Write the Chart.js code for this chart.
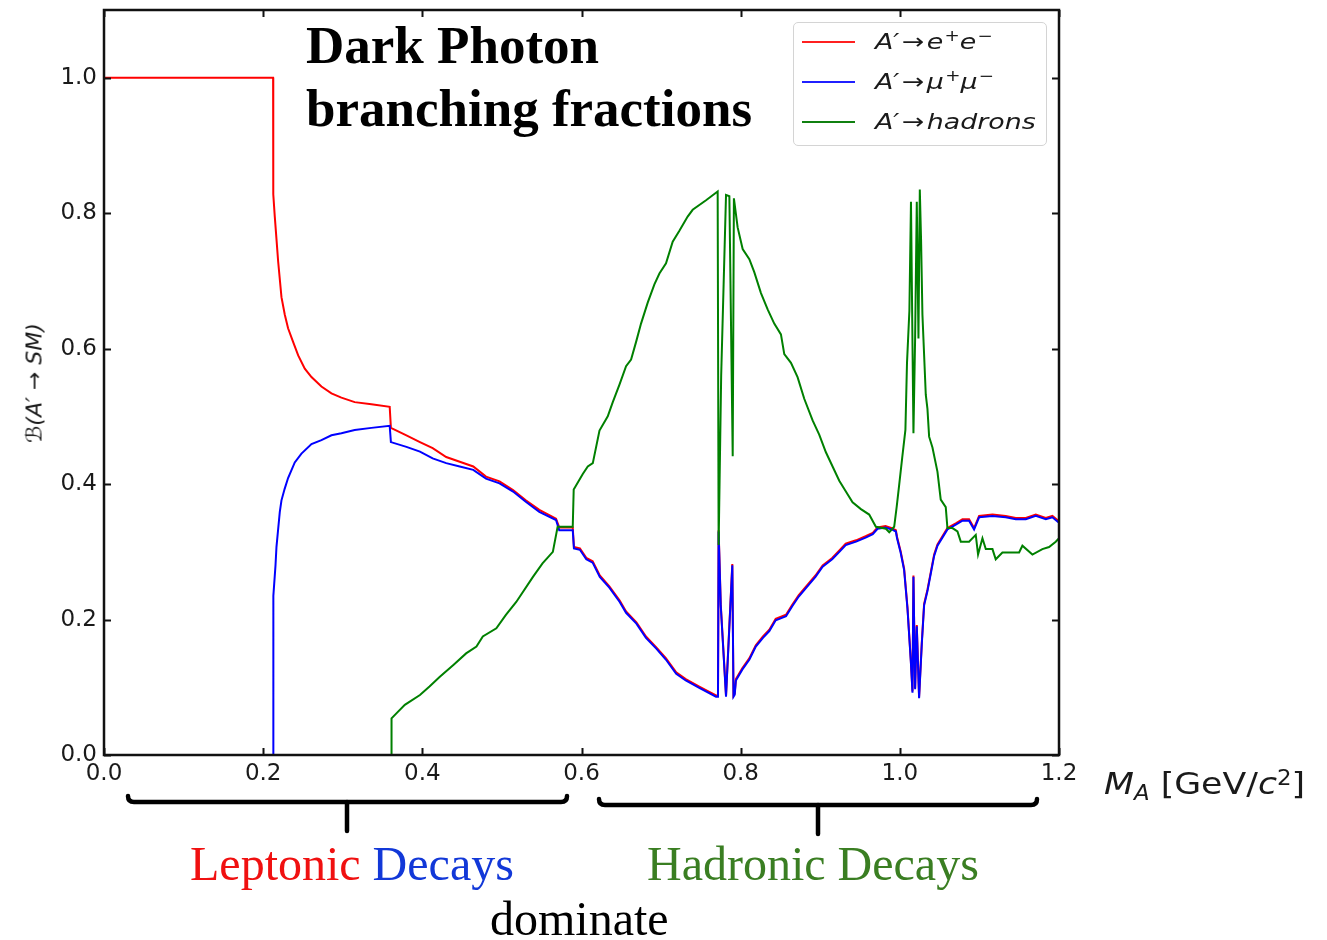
<!DOCTYPE html>
<html>
<head>
<meta charset="utf-8">
<script src="https://cdn.jsdelivr.net/npm/chart.js@4.4.1/dist/chart.umd.min.js"></script>
<style>
  html, body { margin: 0; padding: 0; background: #fff; }
  #wrap { position: relative; width: 1327px; height: 940px; overflow: hidden; background: #fff; }
  #c { position: absolute; left: 0; top: 0; }
  .ov { position: absolute; white-space: nowrap; }
  .serif { font-family: "Liberation Serif", "Times New Roman", serif; }
  .dv { font-family: "DejaVu Sans", sans-serif; color: #1a1a1a; }
  .legbox { position: absolute; left: 793px; top: 22px; width: 252px; height: 122px;
            border: 1.5px solid #d4d4d4; border-radius: 5px; background: #fff; }
  .legline { position: absolute; left: 802px; width: 53px; height: 2px; }
  .legtxt { position: absolute; left: 875px; height: 30px; line-height: 30px; font-size: 22px;
            font-style: italic; transform: scaleX(1.22); transform-origin: left center; }
  .legtxt sup { font-size: 68%; vertical-align: 0; position: relative; top: -0.55em; font-style: normal; margin-left: 1px; }
  .arr { font-style: normal; margin: 0 2px; }
</style>
</head>
<body>
<div id="wrap">
  <canvas id="c" width="1327" height="940"></canvas>

  <!-- title -->
  <div class="ov serif" style="left:306px; top:14px; font-size:53px; font-weight:bold; line-height:63.4px; color:#000;">Dark Photon<br>branching fractions</div>

  <!-- legend -->
  <div class="legbox"></div>
  <div class="legline" style="top:41px; background:#ff2020;"></div>
  <div class="legline" style="top:81px; background:#2020ff;"></div>
  <div class="legline" style="top:121px; background:#108010;"></div>
  <div class="legtxt dv" style="top:27px;">A′<span class="arr">→</span>e<sup>+</sup>e<sup>−</sup></div>
  <div class="legtxt dv" style="top:67px;">A′<span class="arr">→</span>μ<sup>+</sup>μ<sup>−</sup></div>
  <div class="legtxt dv" style="top:107px;">A′<span class="arr">→</span>hadrons</div>

  <!-- y axis title -->
  <div class="ov dv" style="left:34px; top:383px; font-size:22px; font-style:italic; transform: translate(-50%,-50%) rotate(-90deg);">ℬ(A′ → SM)</div>

  <!-- x axis title -->
  <div class="ov dv" style="left:1104px; top:768px; font-size:31px; line-height:31px; transform: scaleX(1.12); transform-origin:left top;"><i>M</i><sub style="font-size:66%; font-style:italic; vertical-align:0; position:relative; top:0.3em;">A</sub>&nbsp;[GeV/<i>c</i><sup style="font-size:66%; vertical-align:0; position:relative; top:-0.45em;">2</sup>]</div>

  <!-- braces -->
  <svg class="ov" style="left:0; top:0;" width="1327" height="940">
    <g fill="none" stroke="#000" stroke-width="4.5" stroke-linecap="round" stroke-linejoin="round">
      <path d="M128 796 Q128 802 134 802 L561 802 Q567 802 567 796"/>
      <path d="M347 802 L347 831"/>
      <path d="M599 799 Q599 805 605 805 L1031 805 Q1037 805 1037 799"/>
      <path d="M818 805 L818 834"/>
    </g>
  </svg>

  <!-- annotations -->
  <div class="ov serif" style="left:190px; top:840px; font-size:48px; line-height:48px;"><span style="color:#f01010;">Leptonic</span> <span style="color:#1238d8;">Decays</span></div>
  <div class="ov serif" style="left:647px; top:840px; font-size:48px; line-height:48px; color:#3a7e22;">Hadronic Decays</div>
  <div class="ov serif" style="left:490px; top:895px; font-size:48px; line-height:48px; color:#000;">dominate</div>
</div>

<script>
// ---- data ----
const xTickValues = [0.0, 0.2, 0.4, 0.6, 0.8, 1.0, 1.2];
const yTickValues = [0.0, 0.2, 0.4, 0.6, 0.8, 1.0];

const seriesLabels = ["A′→e⁺e⁻", "A′→μ⁺μ⁻", "A′→hadrons"];

// A' -> e+ e-
const redX = [0, 0.2125, 0.2127, 0.2146, 0.2167, 0.2188, 0.223, 0.2272, 0.2313, 0.2376, 0.244, 0.2523,
  0.2607, 0.2732, 0.2858, 0.2983, 0.315, 0.336, 0.359, 0.3605,
  0.380, 0.397, 0.413, 0.430, 0.447, 0.464, 0.480, 0.497, 0.514, 0.530, 0.547, 0.568, 0.572, 0.589,
  0.5905, 0.598, 0.606, 0.614, 0.623, 0.635, 0.648, 0.656, 0.669, 0.681, 0.694, 0.706, 0.719, 0.731,
  0.748, 0.769, 0.7715, 0.7723, 0.775, 0.7816, 0.7895, 0.791, 0.7925, 0.794, 0.802, 0.811, 0.819,
  0.828, 0.836, 0.844, 0.857, 0.865, 0.873, 0.886, 0.894, 0.903, 0.915, 0.924, 0.932, 0.945, 0.957,
  0.966, 0.972, 0.982, 0.990, 0.995, 0.9965, 1.001, 1.0054, 1.0096, 1.0138, 1.0159, 1.0171, 1.0192,
  1.0213, 1.0242, 1.0276, 1.0305, 1.0347, 1.0389, 1.0431, 1.0473, 1.0556, 1.0598, 1.0703, 1.0787,
  1.087, 1.0933, 1.0996, 1.1164, 1.1331, 1.1457, 1.1583, 1.1708, 1.1834, 1.1917, 1.2];
const redY = [1.0, 1.0, 0.828, 0.795, 0.762, 0.729, 0.676, 0.650, 0.630, 0.610, 0.590, 0.5705,
  0.558, 0.544, 0.534, 0.5277, 0.521, 0.518, 0.514, 0.483,
  0.472, 0.462, 0.453, 0.440, 0.433, 0.426, 0.411, 0.404, 0.391, 0.376, 0.362, 0.349, 0.336, 0.336,
  0.307, 0.305, 0.291, 0.286, 0.265, 0.249, 0.228, 0.212, 0.196, 0.175, 0.159, 0.143, 0.122, 0.112,
  0.101, 0.088, 0.088, 0.332, 0.222, 0.088, 0.282, 0.088, 0.091, 0.112, 0.128, 0.143, 0.162,
  0.175, 0.185, 0.201, 0.207, 0.222, 0.236, 0.254, 0.265, 0.280, 0.291, 0.302, 0.312, 0.317, 0.323,
  0.328, 0.336, 0.338, 0.335, 0.332, 0.322, 0.301, 0.275, 0.218, 0.140, 0.094, 0.265, 0.099,
  0.192, 0.086, 0.166, 0.223, 0.244, 0.270, 0.296, 0.311, 0.327, 0.335, 0.342, 0.348,
  0.348, 0.335, 0.353, 0.355, 0.353, 0.350, 0.350, 0.355, 0.350, 0.353, 0.345];

// A' -> mu+ mu-
const blueX = [0.2125, 0.2128, 0.2155, 0.2167, 0.2188, 0.2209, 0.223, 0.227, 0.2313, 0.2397, 0.2481,
  0.2607, 0.2732, 0.2858, 0.2983, 0.315, 0.336, 0.359, 0.3605,
  0.380, 0.397, 0.413, 0.430, 0.447, 0.464, 0.480, 0.497, 0.514, 0.530, 0.547, 0.568, 0.572, 0.589,
  0.5905, 0.598, 0.606, 0.614, 0.623, 0.635, 0.648, 0.656, 0.669, 0.681, 0.694, 0.706, 0.719, 0.731,
  0.748, 0.769, 0.7715, 0.7723, 0.775, 0.7816, 0.7895, 0.791, 0.7925, 0.794, 0.802, 0.811, 0.819,
  0.828, 0.836, 0.844, 0.857, 0.865, 0.873, 0.886, 0.894, 0.903, 0.915, 0.924, 0.932, 0.945, 0.957,
  0.966, 0.972, 0.982, 0.990, 0.995, 0.9965, 1.001, 1.0054, 1.0096, 1.0138, 1.0159, 1.0171, 1.0192,
  1.0213, 1.0242, 1.0276, 1.0305, 1.0347, 1.0389, 1.0431, 1.0473, 1.0556, 1.0598, 1.0703, 1.0787,
  1.087, 1.0933, 1.0996, 1.1164, 1.1331, 1.1457, 1.1583, 1.1708, 1.1834, 1.1917, 1.2];
const blueY = [0, 0.235, 0.280, 0.307, 0.333, 0.359, 0.376, 0.393, 0.409, 0.432, 0.445,
  0.459, 0.465, 0.472, 0.475, 0.480, 0.483, 0.486, 0.462,
  0.455, 0.448, 0.438, 0.431, 0.426, 0.421, 0.408, 0.401, 0.389, 0.374, 0.359, 0.347, 0.332, 0.332,
  0.305, 0.303, 0.289, 0.284, 0.263, 0.247, 0.226, 0.210, 0.194, 0.173, 0.157, 0.141, 0.120, 0.110,
  0.099, 0.086, 0.086, 0.330, 0.220, 0.086, 0.280, 0.086, 0.089, 0.110, 0.126, 0.141, 0.160,
  0.173, 0.183, 0.199, 0.205, 0.220, 0.234, 0.252, 0.263, 0.278, 0.289, 0.300, 0.310, 0.315, 0.321,
  0.326, 0.334, 0.336, 0.333, 0.330, 0.320, 0.299, 0.273, 0.216, 0.138, 0.092, 0.263, 0.097,
  0.190, 0.084, 0.164, 0.221, 0.242, 0.268, 0.294, 0.309, 0.325, 0.333, 0.340, 0.346,
  0.346, 0.333, 0.351, 0.353, 0.351, 0.348, 0.348, 0.353, 0.348, 0.351, 0.343];

// A' -> hadrons
const greenX = [0.3611, 0.3613, 0.3674, 0.378, 0.397, 0.409, 0.422, 0.439, 0.455, 0.468, 0.476, 0.493,
  0.505, 0.518, 0.539, 0.551, 0.564, 0.570, 0.589, 0.5902, 0.6016, 0.6079, 0.6142, 0.6226, 0.633,
  0.6393, 0.6477, 0.656, 0.6623, 0.6686, 0.6748, 0.6832, 0.6916, 0.6979, 0.7062, 0.7146, 0.723,
  0.7334, 0.7397, 0.7565, 0.7711, 0.7723, 0.7755, 0.7816, 0.7858, 0.79, 0.7915, 0.7962, 0.8025,
  0.8109, 0.8171, 0.8255, 0.8339, 0.8422, 0.8506, 0.8548, 0.8632, 0.8715, 0.8799, 0.8904, 0.8987,
  0.9071, 0.9155, 0.9239, 0.9322, 0.9406, 0.9511, 0.9615, 0.9699, 0.9825, 0.9867, 0.9929, 0.996,
  0.999, 1.003, 1.007, 1.009, 1.012, 1.014, 1.0171, 1.0192, 1.0213, 1.0234, 1.0251, 1.0267, 1.0284,
  1.0326, 1.0347, 1.0368, 1.041, 1.0473, 1.0514, 1.0577, 1.0598, 1.0661, 1.0724, 1.0766, 1.087,
  1.0954, 1.0983, 1.1038, 1.108, 1.1164, 1.1205, 1.1289, 1.1499, 1.154, 1.1666, 1.1791, 1.1875,
  1.1959, 1.2];
const greenY = [0, 0.054, 0.0615, 0.074, 0.0886, 0.101, 0.1156, 0.133, 0.150, 0.160, 0.175, 0.187,
  0.207, 0.226, 0.263, 0.283, 0.300, 0.337, 0.337, 0.392, 0.415, 0.426, 0.431, 0.479, 0.500,
  0.521, 0.547, 0.574, 0.584, 0.610, 0.637, 0.668, 0.695, 0.711, 0.726, 0.758, 0.774,
  0.795, 0.805, 0.819, 0.832, 0.310, 0.560, 0.827, 0.825, 0.441, 0.822, 0.779, 0.747,
  0.732, 0.713, 0.682, 0.658, 0.637, 0.621, 0.592, 0.579, 0.558, 0.526, 0.494, 0.473,
  0.447, 0.426, 0.405, 0.389, 0.373, 0.363, 0.355, 0.337, 0.334, 0.329, 0.337, 0.366,
  0.397, 0.439, 0.480, 0.579, 0.656, 0.817, 0.475, 0.615, 0.817, 0.615, 0.835, 0.760, 0.650,
  0.532, 0.511, 0.470, 0.454, 0.418, 0.377, 0.366, 0.335, 0.335, 0.330, 0.315, 0.315,
  0.325, 0.296, 0.320, 0.304, 0.304, 0.289, 0.299, 0.299, 0.309, 0.296, 0.304, 0.307,
  0.315, 0.320];

function pts(xs, ys) {
  const n = Math.min(xs.length, ys.length);
  const out = [];
  for (let i = 0; i < n; i++) out.push({ x: xs[i], y: ys[i] });
  return out;
}

const framePlugin = {
  id: 'frame',
  afterDatasetsDraw(chart) {
    const { ctx, chartArea: a, scales: { x, y } } = chart;
    ctx.save();
    ctx.strokeStyle = '#111';
    ctx.lineWidth = 2;
    ctx.beginPath();
    xTickValues.forEach(v => {
      const px = Math.round(x.getPixelForValue(v)) + 0.5;
      ctx.moveTo(px, a.bottom); ctx.lineTo(px, a.bottom - 7);
      ctx.moveTo(px, a.top); ctx.lineTo(px, a.top + 7);
    });
    yTickValues.forEach(v => {
      const py = Math.round(y.getPixelForValue(v)) + 0.5;
      ctx.moveTo(a.left, py); ctx.lineTo(a.left + 7, py);
      ctx.moveTo(a.right, py); ctx.lineTo(a.right - 7, py);
    });
    ctx.stroke();
    ctx.lineWidth = 2.5;
    ctx.strokeRect(a.left, a.top, a.right - a.left, a.bottom - a.top);
    ctx.restore();
  }
};

const tickFont = { family: 'DejaVu Sans', size: 23 };

new Chart(document.getElementById('c'), {
  type: 'line',
  data: {
    datasets: [
      { label: seriesLabels[0], data: pts(redX, redY), borderColor: '#ff0000', borderWidth: 2, order: 3 },
      { label: seriesLabels[1], data: pts(blueX, blueY), borderColor: '#0000ff', borderWidth: 2, order: 2 },
      { label: seriesLabels[2], data: pts(greenX, greenY), borderColor: '#008000', borderWidth: 2, order: 1 }
    ]
  },
  options: {
    responsive: false,
    animation: false,
    devicePixelRatio: 1,
    elements: { point: { radius: 0 }, line: { tension: 0, fill: false } },
    layout: { padding: { left: 0, top: 10, right: 268, bottom: 0 } },
    plugins: { legend: { display: false }, tooltip: { enabled: false }, title: { display: false } },
    scales: {
      x: {
        type: 'linear', min: 0, max: 1.2,
        grid: { display: false, drawTicks: false },
        border: { display: false },
        afterBuildTicks: s => { s.ticks = xTickValues.map(v => ({ value: v })); },
        afterFit: s => { s.height = 185; s.paddingLeft = 0; s.paddingRight = 0; },
        ticks: { font: tickFont, color: '#1a1a1a', padding: 5, maxRotation: 0, autoSkip: false,
                 callback: v => Number(v).toFixed(1) }
      },
      y: {
        type: 'linear', min: 0, max: 1.1,
        grid: { display: false, drawTicks: false },
        border: { display: false },
        afterBuildTicks: s => { s.ticks = yTickValues.map(v => ({ value: v })); },
        afterFit: s => { s.width = 104; s.paddingTop = 0; s.paddingBottom = 0; },
        ticks: { font: tickFont, color: '#1a1a1a', padding: 7, autoSkip: false,
                 callback: v => Number(v).toFixed(1) }
      }
    }
  },
  plugins: [framePlugin]
});
</script>
</body>
</html>
